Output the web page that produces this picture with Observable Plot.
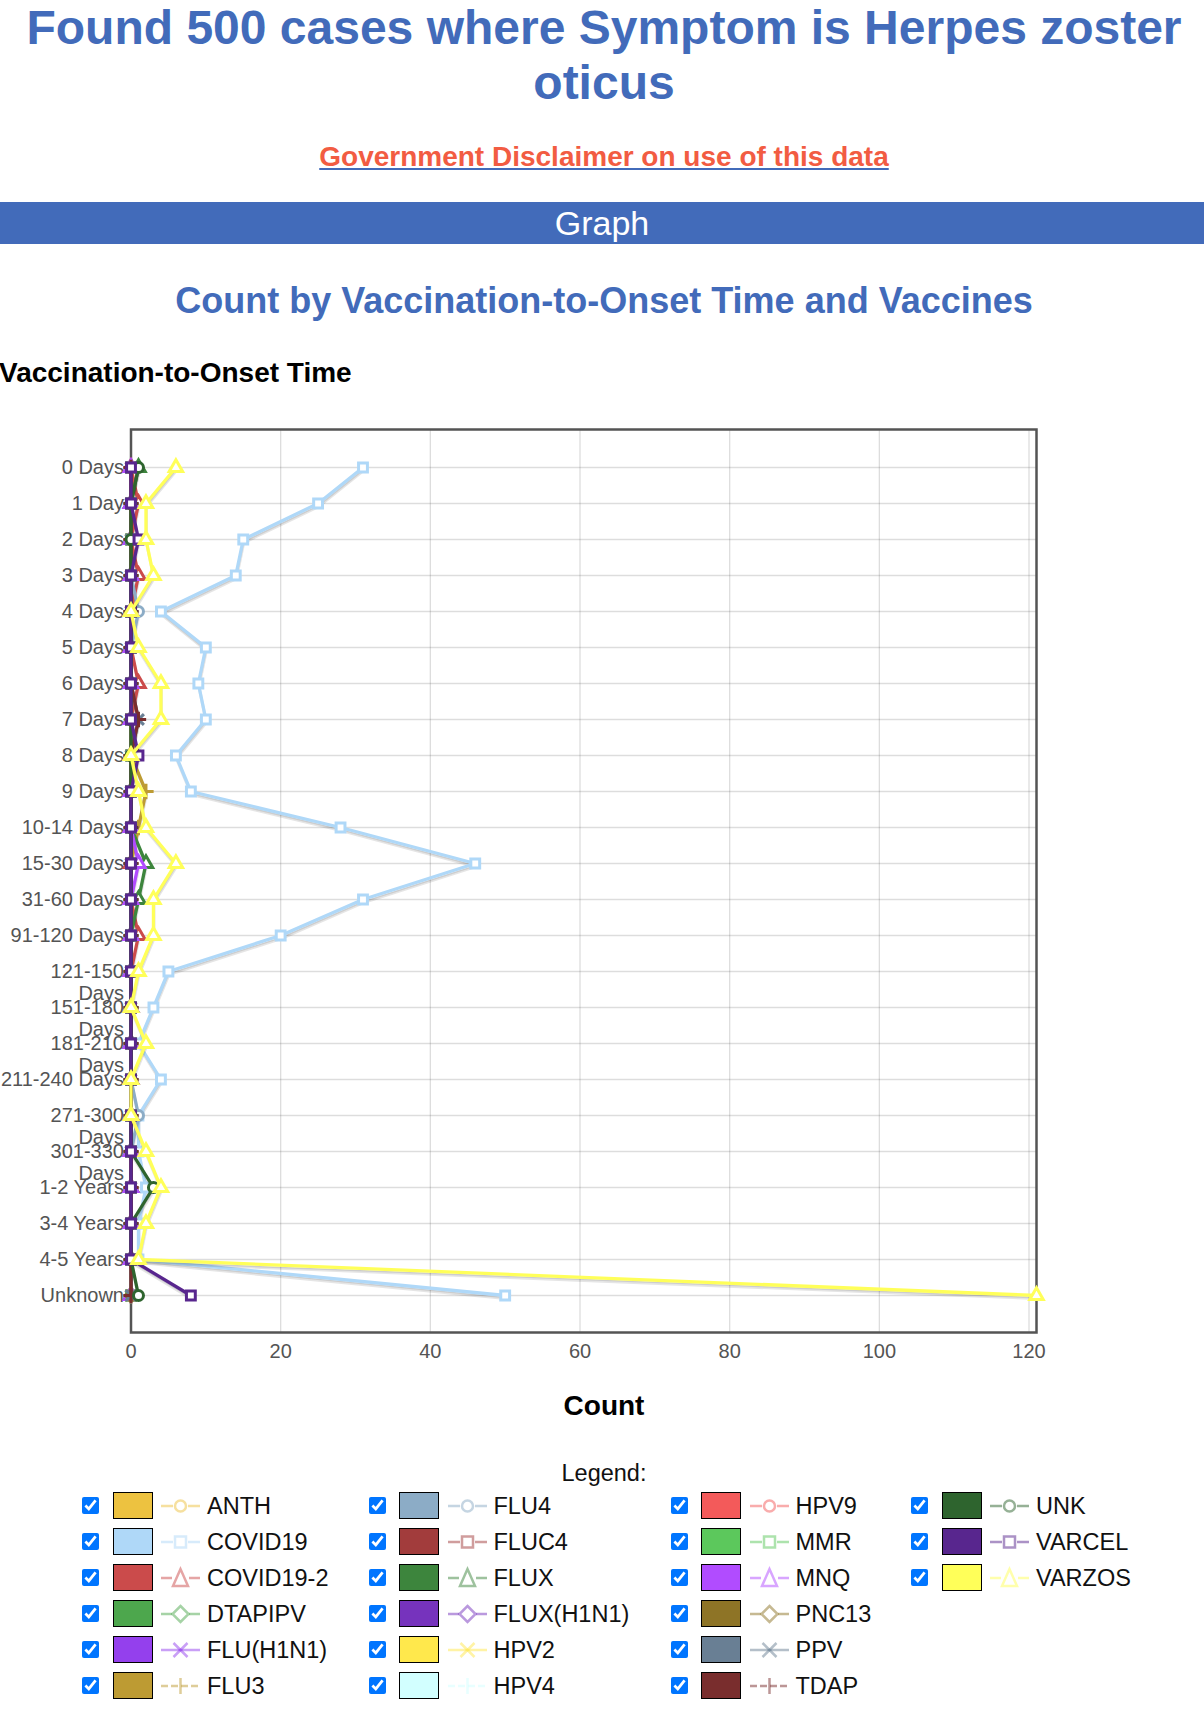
<!DOCTYPE html>
<html>
<head>
<meta charset="utf-8">
<script src="https://cdn.jsdelivr.net/npm/d3@7"></script>
<script src="https://cdn.jsdelivr.net/npm/@observablehq/plot@0.6"></script>
<style>
html, body { margin: 0; padding: 0; background: #fff; overflow: hidden; }
body { width: 1204px; height: 1725px; position: relative; font-family: Arial, "Liberation Sans", Helvetica, sans-serif; }
.abs { position: absolute; left: 0; width: 1208px; text-align: center; white-space: normal; }
#title { top: 0; font-weight: bold; font-size: 48px; line-height: 55px; color: #426bba; }
#disc { top: 141px; font-weight: bold; font-size: 28px; line-height: 32px; }
#disc span { color: #f25c42; text-decoration: underline; text-decoration-color: #426bba; }
#band { position: absolute; left: 0; top: 202px; width: 1204px; height: 42px; background: #426bba; color: #fff; font-size: 34px; line-height: 42px; text-align: center; }
#ctitle { top: 280px; font-weight: bold; font-size: 36px; line-height: 41px; color: #426bba; }
#ytitle { position: absolute; left: -1px; top: 357px; font-weight: bold; font-size: 28px; line-height: 32px; color: #000; }
#chart { position: absolute; left: 0; top: 400px; }
#xtitle { top: 1390px; font-weight: bold; font-size: 28px; line-height: 32px; color: #000; }
#legtitle { top: 1459px; font-size: 23.5px; line-height: 28px; color: #111; }
.item { position: absolute; height: 30px; }
.item input { position: absolute; left: 0; top: 6px; width: 17px; height: 17px; margin: 0; }
.item .sw { position: absolute; left: 30.5px; top: 1px; width: 38px; height: 25px; border: 1.5px solid #000; }
.item svg { position: absolute; left: 79px; top: 0; }
.item .lab { position: absolute; left: 125px; top: 0; font-size: 23.5px; line-height: 30px; color: #111; white-space: nowrap; }
</style>
</head>
<body>
<div id="title" class="abs">Found 500 cases where Symptom is Herpes zoster oticus</div>
<div id="disc" class="abs"><span>Government Disclaimer on use of this data</span></div>
<div id="band">Graph</div>
<div id="ctitle" class="abs">Count by Vaccination-to-Onset Time and Vaccines</div>
<div id="ytitle">Vaccination-to-Onset Time</div>
<div id="chart"></div>
<div id="xtitle" class="abs">Count</div>
<div id="legtitle" class="abs">Legend:</div>
<div id="legend"></div>
<script>
// ---- categories and tick labels ----
const cats = ["0 Days","1 Day","2 Days","3 Days","4 Days","5 Days","6 Days","7 Days","8 Days","9 Days",
  "10-14 Days","15-30 Days","31-60 Days","91-120 Days","121-150 Days","151-180 Days","181-210 Days",
  "211-240 Days","271-300 Days","301-330 Days","1-2 Years","3-4 Years","4-5 Years","Unknown"];
const tickLabels = ["0 Days","1 Day","2 Days","3 Days","4 Days","5 Days","6 Days","7 Days","8 Days","9 Days",
  "10-14 Days","15-30 Days","31-60 Days","91-120 Days","121-150\nDays","151-180\nDays","181-210\nDays",
  "211-240 Days","271-300\nDays","301-330\nDays","1-2 Years","3-4 Years","4-5 Years","Unknown"];
const xTicks = [0, 20, 40, 60, 80, 100, 120];

// ---- series ----
const seriesNames = ["ANTH","COVID19","COVID19-2","DTAPIPV","FLU(H1N1)","FLU3","FLU4","FLUC4","FLUX","FLUX(H1N1)",
  "HPV2","HPV4","HPV9","MMR","MNQ","PNC13","PPV","TDAP","UNK","VARCEL","VARZOS"];
const seriesColors = ["#edc240","#afd8f8","#cb4b4b","#4da74d","#9440ed","#bd9b33","#8cacc6","#a23c3c","#3d853d","#7633bd",
  "#ffe84c","#d2ffff","#f35a5a","#5cc85c","#b14cff","#8e7426","#697f94","#792d2d","#2e642e","#58268e","#ffff59"];
const seriesSymbols = ["circle","square","triangle","diamond2","times","plus","circle","square","triangle","diamond2",
  "times","plus","circle","square","triangle","diamond2","times","plus","circle","square","triangle"];

const ANTH      = [0,0,0,0,0,0,0,0,0,0,0,0,0,0,0,0,0,0,0,0,0,0,0,0];
const COVID19   = [31,25,15,14,4,10,9,10,6,8,28,46,31,20,5,3,1,4,1,1,2,1,1,50];
const COVID19_2 = [0,1,0,1,0,0,1,0,0,0,0,0,0,1,0,0,0,0,0,0,0,0,0,0];
const DTAPIPV   = [0,0,0,0,0,0,0,0,0,0,0,0,0,0,0,0,0,0,0,0,0,0,0,0];
const FLU_H1N1  = [0,0,0,0,0,0,0,0,0,0,0,0,0,0,0,0,0,0,0,0,0,0,0,0];
const FLU3      = [0,0,0,0,0,0,0,0,0,2,1,0,0,0,0,0,0,0,0,0,0,0,0,0];
const FLU4      = [0,0,0,0,1,0,0,0,0,0,0,0,0,0,0,0,0,0,1,0,0,0,0,0];
const FLUC4     = [0,0,0,0,0,0,0,0,0,0,0,0,0,0,0,0,0,0,0,0,0,0,0,0];
const FLUX      = [1,0,0,0,0,0,0,0,0,0,0,2,1,0,0,0,0,0,0,0,0,0,0,0];
const FLUX_H1N1 = [0,0,0,0,0,0,0,0,0,0,0,0,0,0,0,0,0,0,0,0,0,0,0,0];
const HPV2      = [0,0,0,0,0,0,0,0,0,0,0,0,0,0,0,0,0,0,0,0,0,0,0,0];
const HPV4      = [0,0,0,0,0,0,0,0,0,0,0,0,0,0,0,0,0,0,0,0,0,0,0,0];
const HPV9      = [0,0,0,0,0,0,0,0,0,0,0,0,0,0,0,0,0,0,0,0,0,0,0,0];
const MMR       = [0,0,0,0,0,0,0,0,0,0,0,0,0,0,0,0,0,0,0,0,0,0,0,0];
const MNQ       = [0,0,0,0,0,0,0,0,0,0,0,1,0,0,0,0,0,0,0,0,0,0,0,0];
const PNC13     = [0,0,0,0,0,0,0,0,0,0,0,0,0,0,0,0,0,0,0,0,0,0,0,0];
const PPV       = [0,0,0,0,0,0,0,1,0,0,0,0,0,0,0,0,0,0,0,0,0,0,0,0];
const TDAP      = [0,0,0,0,0,0,0,1,0,0,0,0,0,0,0,0,0,0,0,0,0,0,0,0];
const UNK       = [1,0,0,0,0,0,0,0,0,0,0,0,0,0,0,0,0,0,0,0,3,0,0,1];
const VARCEL    = [0,0,1,0,0,0,0,0,1,0,0,0,0,0,0,0,0,0,0,0,0,0,0,8];
const VARZOS    = [6,2,2,3,0,1,4,4,0,1,2,6,3,3,1,0,2,0,0,2,4,2,1,121];

const seriesValues = [ANTH,COVID19,COVID19_2,DTAPIPV,FLU_H1N1,FLU3,FLU4,FLUC4,FLUX,FLUX_H1N1,
  HPV2,HPV4,HPV9,MMR,MNQ,PNC13,PPV,TDAP,UNK,VARCEL,VARZOS];

// ---- chart ----
const marks = [
  Plot.gridX(xTicks, {stroke: "#545454", strokeOpacity: 0.2, strokeWidth: 1.3}),
  Plot.gridY(cats, {stroke: "#545454", strokeOpacity: 0.2, strokeWidth: 1.3}),
  Plot.frame({stroke: "#545454", strokeWidth: 2.5}),
  Plot.axisX(xTicks, {tickSize: 0, tickPadding: 11, fontSize: 20, fill: "#545454", label: null}),
  Plot.axisY(cats, {tickSize: 0, tickPadding: 7, fontSize: 20, fill: "#545454", label: null,
    tickFormat: d => tickLabels[cats.indexOf(d)], lineAnchor: "top", dy: -9.5, lineHeight: 1.1})
];
seriesNames.forEach((name, i) => {
  const rows = cats.map((cat, j) => ({name, cat, value: seriesValues[i][j]}));
  marks.push(Plot.line(rows, {x: "value", y: "cat", stroke: "#000", strokeOpacity: 0.1, strokeWidth: 3, dx: 0.52, dy: 3.1}));
  marks.push(Plot.line(rows, {x: "value", y: "cat", stroke: "#000", strokeOpacity: 0.1, strokeWidth: 1.5, dx: 0.39, dy: 2.3}));
  marks.push(Plot.line(rows, {x: "value", y: "cat", stroke: seriesColors[i], strokeWidth: 3.3}));
  marks.push(Plot.dot(rows, {x: "value", y: "cat", symbol: seriesSymbols[i], r: 5, fill: "#fff", stroke: seriesColors[i], strokeWidth: 3}));
});

const chart = Plot.plot({
  width: 1204,
  height: 975,
  marginTop: 29,
  marginBottom: 43,
  marginLeft: 130.5,
  marginRight: 168,
  style: {fontFamily: "Arial, 'Liberation Sans', sans-serif", background: "transparent", overflow: "visible"},
  x: {domain: [0, 121]},
  y: {type: "point", domain: cats, padding: 1},
  marks
});
document.getElementById("chart").appendChild(chart);

// ---- legend ----
const colLeft = [82, 368.5, 670.5, 911];
const rowsPerCol = 6;
function icon(sym, color) {
  const ns = "http://www.w3.org/2000/svg";
  const s = document.createElementNS(ns, "svg");
  s.setAttribute("width", 40); s.setAttribute("height", 30);
  const g = document.createElementNS(ns, "g");
  g.setAttribute("stroke", color); g.setAttribute("stroke-opacity", 0.5);
  g.setAttribute("stroke-width", 2.5); g.setAttribute("fill", "none");
  const cy = 15, cx = 19.5;
  let html = "";
  if (sym === "circle") html = `<line x1="0" y1="${cy}" x2="12" y2="${cy}"/><line x1="27" y1="${cy}" x2="39" y2="${cy}"/><circle cx="${cx}" cy="${cy}" r="5.5"/>`;
  else if (sym === "square") html = `<line x1="0" y1="${cy}" x2="12" y2="${cy}"/><line x1="27" y1="${cy}" x2="39" y2="${cy}"/><rect x="14" y="${cy-5.5}" width="11" height="11"/>`;
  else if (sym === "triangle") html = `<line x1="0" y1="${cy}" x2="11" y2="${cy}"/><line x1="28" y1="${cy}" x2="39" y2="${cy}"/><polygon points="${cx},${cy-9} ${cx-7.5},${cy+8} ${cx+7.5},${cy+8}"/>`;
  else if (sym === "diamond2") html = `<line x1="0" y1="${cy}" x2="11" y2="${cy}"/><line x1="28" y1="${cy}" x2="39" y2="${cy}"/><polygon points="${cx},${cy-8} ${cx+8},${cy} ${cx},${cy+8} ${cx-8},${cy}"/>`;
  else if (sym === "times") html = `<line x1="0" y1="${cy}" x2="39" y2="${cy}"/><line x1="${cx-7}" y1="${cy-7}" x2="${cx+7}" y2="${cy+7}"/><line x1="${cx-7}" y1="${cy+7}" x2="${cx+7}" y2="${cy-7}"/>`;
  else html = `<line x1="0" y1="${cy}" x2="39" y2="${cy}" stroke-dasharray="7 3"/><line x1="${cx}" y1="${cy-8}" x2="${cx}" y2="${cy+8}"/>`;
  g.innerHTML = html;
  s.appendChild(g);
  return s;
}
const leg = document.getElementById("legend");
seriesNames.forEach((name, i) => {
  const col = Math.floor(i / rowsPerCol), row = i % rowsPerCol;
  const it = document.createElement("div");
  it.className = "item";
  it.style.left = colLeft[col] + "px";
  it.style.top = (1491 + row * 36) + "px";
  const cb = document.createElement("input");
  cb.type = "checkbox"; cb.checked = true;
  it.appendChild(cb);
  const sw = document.createElement("div");
  sw.className = "sw"; sw.style.background = seriesColors[i];
  it.appendChild(sw);
  it.appendChild(icon(seriesSymbols[i], seriesColors[i]));
  const lab = document.createElement("div");
  lab.className = "lab"; lab.textContent = name;
  it.appendChild(lab);
  leg.appendChild(it);
});
</script>
</body>
</html>
